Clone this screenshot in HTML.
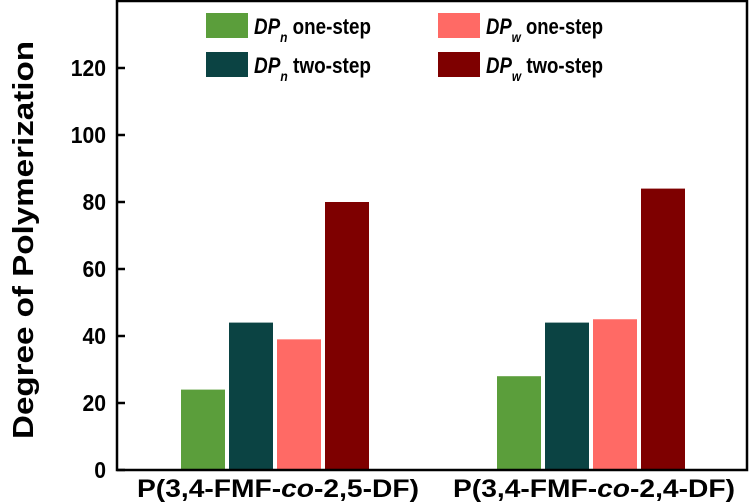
<!DOCTYPE html>
<html><head><meta charset="utf-8"><style>
html,body{margin:0;padding:0;background:#fff;}
svg{display:block;font-family:"Liberation Sans",Arial,sans-serif;font-weight:bold;}
</style></head><body>
<svg id="chart" width="750" height="503">
<g id="bars"></g>
<g id="axes"></g>
<g id="legend"></g>
<text transform="translate(33,240) rotate(-90)" text-anchor="middle" font-size="29" textLength="398" lengthAdjust="spacingAndGlyphs" fill="#000">Degree of Polymerization</text>
</svg>
<script>
const categories = ["P(3,4-FMF-co-2,5-DF)", "P(3,4-FMF-co-2,4-DF)"];
const seriesNames = ["DPn one-step", "DPn two-step", "DPw one-step", "DPw two-step"];
const dpnOne = [24, 28];
const dpnTwo = [44, 44];
const dpwOne = [39, 45];
const dpwTwo = [80, 84];
const yTicks = [0, 20, 40, 60, 80, 100, 120];

const NS = "http://www.w3.org/2000/svg";
const colors = ["#5b9e3b", "#0b4343", "#ff6a65", "#7e0000"];
const L = 117, R = 747, T = 1, B = 470, YMAX = 140;
const y = v => B - v / YMAX * (B - T);
const groupStart = [181, 497];
const bw = 44, step = 48;
const x = (ci, si) => groupStart[ci] + si * step;
function mk(tag, attrs, parent) {
  const e = document.createElementNS(NS, tag);
  for (const k in attrs) e.setAttribute(k, attrs[k]);
  parent.appendChild(e);
  return e;
}
const bars = document.getElementById('bars');
const all = [dpnOne, dpnTwo, dpwOne, dpwTwo];
all.forEach((s, si) => s.forEach((v, ci) => {
  const r = mk('rect', {x: x(ci, si), y: y(v), width: bw, height: B - y(v), fill: colors[si]}, bars);
  
  
}));
const axes = document.getElementById('axes');
const frame = mk('rect', {x: L, y: T, width: R - L, height: B - T, fill: 'none', stroke: '#000', 'stroke-width': 2.5}, axes);


yTicks.forEach(t => {
  mk('line', {x1: L, x2: L + 8, y1: y(t), y2: y(t), stroke: '#000', 'stroke-width': 2.5}, axes);
  const tx = mk('text', {x: 106, y: y(t) + 8, 'text-anchor': 'end', 'font-size': 23, transform: 'translate(106,0) scale(0.92,1) translate(-106,0)'}, axes);
  tx.textContent = t;
  
  
});
categories.forEach((c, ci) => {
  const cx = x(ci, 0) + (3 * step + bw) / 2 + 3;
  const tx = mk('text', {x: cx, y: 497, 'text-anchor': 'middle', 'font-size': 25, textLength: 282, lengthAdjust: 'spacingAndGlyphs'}, axes);
  const parts = c.split('co');
  const a = mk('tspan', {}, tx); a.textContent = parts[0];
  const b = mk('tspan', {'font-style': 'italic'}, tx); b.textContent = 'co';
  const d = mk('tspan', {}, tx); d.textContent = parts[1];
  
  
});
const legend = document.getElementById('legend');
const lpos = [[206, 13, 'n', 'one-step'], [206, 52, 'n', 'two-step'], [438, 13, 'w', 'one-step'], [438, 52, 'w', 'two-step']];
lpos.forEach((p, i) => {
  const g = mk('g', {}, legend);
  
  
  mk('rect', {x: p[0], y: p[1], width: 42, height: 25, fill: colors[i]}, g);
  const t = mk('text', {x: p[0] + 48, y: p[1] + 21, 'font-size': 22, textLength: 117, lengthAdjust: 'spacingAndGlyphs'}, g);
  const a = mk('tspan', {'font-style': 'italic'}, t); a.textContent = 'DP';
  const s = mk('tspan', {'font-style': 'italic', 'font-size': 14, dy: 8}, t); s.textContent = p[2];
  const r = mk('tspan', {dy: -8}, t); r.textContent = ' ' + p[3];
});
</script>
</body></html>
